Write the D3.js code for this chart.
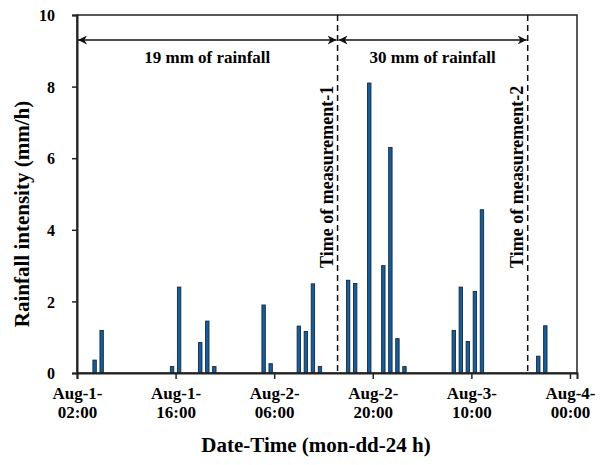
<!DOCTYPE html>
<html>
<head>
<meta charset="utf-8">
<script src="https://cdn.jsdelivr.net/npm/d3@7"></script>
<style>
  body { margin:0; background:#fff; }
  text { font-family:"Liberation Serif","Times New Roman",serif; font-weight:bold; fill:#000; }
</style>
</head>
<body>
<div id="chart"></div>
<script>
// rainfall data, hourly totals (start of the hour)
var rainTimes = ["2016-08-01T04:00","2016-08-01T05:00","2016-08-01T15:00","2016-08-01T16:00",
  "2016-08-01T19:00","2016-08-01T20:00","2016-08-01T21:00","2016-08-02T04:00","2016-08-02T05:00",
  "2016-08-02T09:00","2016-08-02T10:00","2016-08-02T11:00","2016-08-02T12:00",
  "2016-08-02T16:00","2016-08-02T17:00","2016-08-02T19:00","2016-08-02T21:00","2016-08-02T22:00",
  "2016-08-02T23:00","2016-08-03T00:00","2016-08-03T07:00","2016-08-03T08:00","2016-08-03T09:00",
  "2016-08-03T10:00","2016-08-03T11:00","2016-08-03T19:00","2016-08-03T20:00"];
var rainValues = [0.36,1.19,0.18,2.4,0.85,1.45,0.18,1.9,0.26,1.31,1.16,2.49,0.18,
  2.59,2.5,8.1,3.0,6.3,0.96,0.18,1.19,2.4,0.88,2.28,4.56,0.47,1.32];

var tickTimes = ["2016-08-01T02:00","2016-08-01T16:00","2016-08-02T06:00","2016-08-02T20:00","2016-08-03T10:00","2016-08-04T00:00"];
var yTicks = [0,2,4,6,8,10];

var measureTimes = ["2016-08-02T15:00","2016-08-03T18:00"];
var measureLabels = ["Time of measurement-1","Time of measurement-2"];
var periodLabels = ["19 mm of rainfall","30 mm of rainfall"];

var width = 601, height = 465;
var margin = {left:77, right:24, top:15, bottom:92};
var parse = d3.timeParse("%Y-%m-%dT%H:%M");
var fmtDay = d3.timeFormat("%b-%-d-"), fmtHour = d3.timeFormat("%H:%M");

var svg = d3.select("#chart").append("svg").attr("width",width).attr("height",height);

var t0 = parse(tickTimes[0]);
var x = d3.scaleTime()
  .domain([t0, d3.timeHour.offset(t0,71)])
  .range([margin.left, width-margin.right]);
var y = d3.scaleLinear().domain([0,10]).range([height-margin.bottom, margin.top]);

var hourW = x(d3.timeHour.offset(t0,1)) - x(t0);
var barW = 3.4;

// bars
svg.append("g").selectAll("rect").data(rainTimes).enter().append("rect")
  .attr("x", function(d){ return x(parse(d)) + (hourW-barW)/2; })
  .attr("y", function(d,i){ return y(rainValues[i]); })
  .attr("width", barW)
  .attr("height", function(d,i){ return y(0)-y(rainValues[i]); })
  .attr("fill","#0d5fa6").attr("stroke","#1b2733").attr("stroke-width",0.9);

// frame
svg.append("rect").attr("x",margin.left).attr("y",margin.top)
  .attr("width",width-margin.left-margin.right).attr("height",height-margin.top-margin.bottom)
  .attr("fill","none").attr("stroke","#222").attr("stroke-width",1.5);

// axes
var xAxis = svg.append("g").attr("transform","translate(0,"+y(0)+")")
  .call(d3.axisBottom(x).tickValues(tickTimes.map(parse)).tickSize(6).tickFormat(""));
var yAxis = svg.append("g").attr("transform","translate("+margin.left+",0)")
  .call(d3.axisLeft(y).tickValues(yTicks).tickSize(5));
svg.selectAll(".domain").attr("stroke","#222").attr("stroke-width",2);
svg.selectAll(".tick line").attr("stroke","#222").attr("stroke-width",1.5);
yAxis.selectAll(".tick text").attr("x",-22).attr("dy","0.35em")
  .style("font-family","Liberation Serif").style("font-weight","bold").style("font-size","16px");

// two line x labels
xAxis.selectAll(".tick").each(function(d){
  var tx = d3.select(this).append("text").attr("text-anchor","middle").style("font-size","17px");
  tx.append("tspan").attr("x",0).attr("y",26).text(fmtDay(d));
  tx.append("tspan").attr("x",0).attr("y",45).text(fmtHour(d));
});

// measurement lines
svg.append("g").selectAll("line").data(measureTimes).enter().append("line")
  .attr("x1", function(d){ return x(parse(d)); }).attr("x2", function(d){ return x(parse(d)); })
  .attr("y1", margin.top).attr("y2", y(0))
  .attr("stroke","#111").attr("stroke-width",1.5).attr("stroke-dasharray","6,4");

svg.append("g").selectAll("text").data(measureTimes).enter().append("text")
  .attr("transform", function(d){ return "translate("+(x(parse(d))-5)+",268) rotate(-90)"; })
  .style("font-size","18px")
  .text(function(d,i){ return measureLabels[i]; });

// arrows between measurements
var defs = svg.append("defs");
defs.append("marker").attr("id","ah").attr("viewBox","0 0 10 10")
  .attr("refX",10).attr("refY",5).attr("markerWidth",9).attr("markerHeight",9)
  .attr("markerUnits","userSpaceOnUse").attr("orient","auto-start-reverse")
  .append("path").attr("d","M0,0 L10,5 L0,10 L3,5 Z").attr("fill","#111");

var bounds = [t0].concat(measureTimes.map(parse));
var arrowY = 40;
for (var i=0;i<periodLabels.length;i++){
  svg.append("line")
    .attr("x1",x(bounds[i])+1).attr("x2",x(bounds[i+1])-1)
    .attr("y1",arrowY).attr("y2",arrowY)
    .attr("stroke","#111").attr("stroke-width",1.5)
    .attr("marker-start","url(#ah)").attr("marker-end","url(#ah)");
  svg.append("text").attr("x",(x(bounds[i])+x(bounds[i+1]))/2).attr("y",63)
    .attr("text-anchor","middle").style("font-size","17px").text(periodLabels[i]);
}

// axis titles
svg.append("text").attr("x",316).attr("y",452).attr("text-anchor","middle")
  .style("font-size","21px").text("Date-Time (mon-dd-24 h)");
svg.append("text").attr("transform","translate(29,214) rotate(-90)").attr("text-anchor","middle")
  .style("font-size","21px").text("Rainfall intensity (mm/h)");
</script>
</body>
</html>
